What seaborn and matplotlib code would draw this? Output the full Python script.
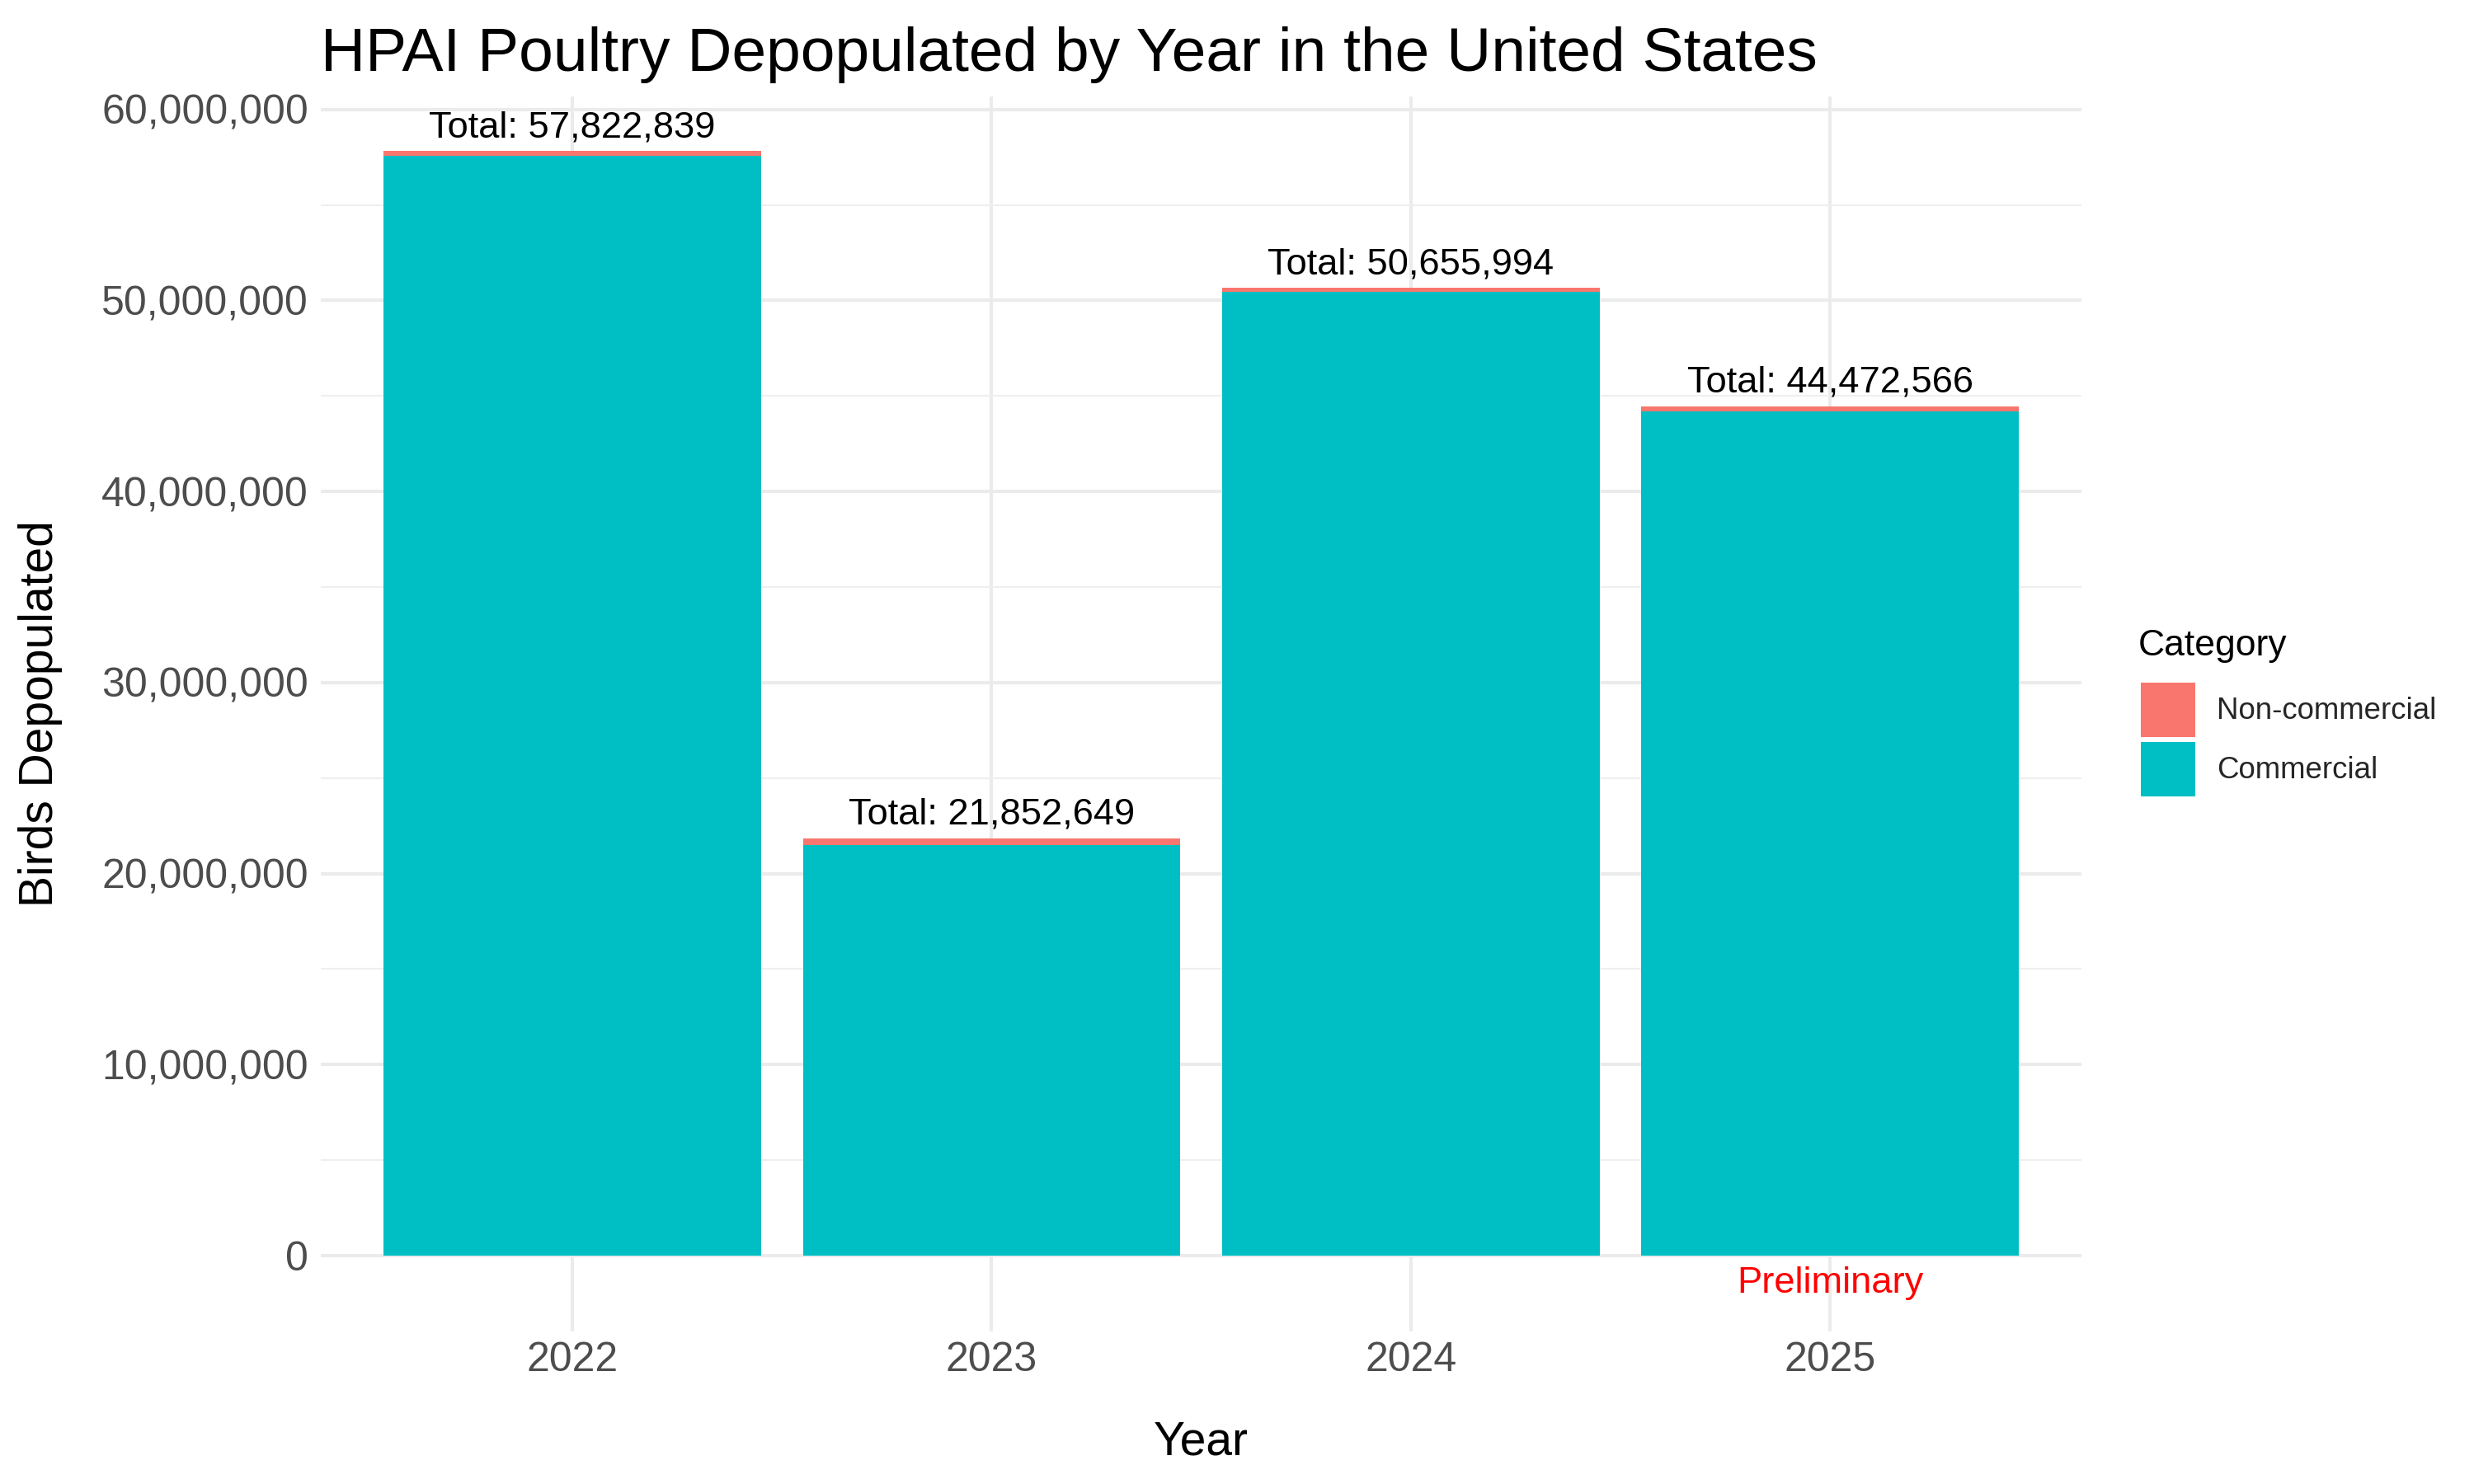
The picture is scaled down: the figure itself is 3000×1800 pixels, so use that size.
import matplotlib
matplotlib.use("Agg")
import matplotlib.pyplot as plt
from matplotlib.patches import Patch
from matplotlib.ticker import FuncFormatter, MultipleLocator
import seaborn as sns
import pandas as pd

years = ["2022", "2023", "2024", "2025"]
totals = [57822839, 21852649, 50655994, 44472566]
# non-commercial share read off the thin red caps
non_commercial = [260000, 360000, 220000, 270000]
commercial = [t - n for t, n in zip(totals, non_commercial)]

pink = "#F8766D"
teal = "#00BFC4"

df = pd.DataFrame({"Year": years, "Total": totals, "Commercial": commercial})

sns.set_theme(style="whitegrid")
plt.rcParams["font.family"] = ["Liberation Sans", "DejaVu Sans"]

fig = plt.figure(figsize=(15, 9), dpi=200)
ax = fig.add_axes([0.1297, 0.1028, 0.7117, 0.8322])

# stacked bars: full total in red, commercial drawn over it
sns.barplot(data=df, x="Year", y="Total", color=pink, width=0.9, saturation=1, ax=ax)
sns.barplot(data=df, x="Year", y="Commercial", color=teal, width=0.9, saturation=1, ax=ax)
for p in ax.patches:
    p.set_edgecolor("none")

for i, t in enumerate(totals):
    ax.text(i, t + 730000, f"Total: {t:,}", ha="center", va="baseline", fontsize=16.3, color="black")
ax.text(3, -1450000, "Preliminary", ha="center", va="center", fontsize=16.3, color="red")

ax.set_xlim(-0.6, 3.6)
ax.set_ylim(-3970000, 60680000)
ax.yaxis.set_major_locator(MultipleLocator(10000000))
ax.yaxis.set_minor_locator(MultipleLocator(5000000))
ax.yaxis.set_major_formatter(FuncFormatter(lambda v, _: f"{int(v):,}"))

ax.grid(True, which="major", color="#EBEBEB", linewidth=1.5)
ax.grid(True, which="minor", axis="y", color="#EFEFEF", linewidth=0.8)
ax.set_axisbelow(True)
for s in ax.spines.values():
    s.set_visible(False)
ax.tick_params(axis="both", which="both", length=0, labelsize=18, labelcolor="#4D4D4D")
ax.tick_params(axis="x", pad=4.3)
ax.tick_params(axis="y", pad=5.5)

ax.set_xlabel("Year", fontsize=20.5, color="black", va="baseline")
ax.set_ylabel("Birds Depopulated", fontsize=20.5, color="black")
ax.xaxis.set_label_coords(0.5, -0.1001)
ax.yaxis.set_label_coords(-0.1466, 0.5)

fig.text(0.1297, 0.952, "HPAI Poultry Depopulated by Year in the United States",
         fontsize=27, ha="left", va="baseline", color="black")

# legend title drawn on its own so the gap to the keys can be matched
fig.text(0.8643, 0.5583, "Category", fontsize=16, ha="left", va="baseline", color="black")
handles = [Patch(facecolor=pink, edgecolor="none", label="Non-commercial"),
           Patch(facecolor=teal, edgecolor="none", label="Commercial")]
leg = fig.legend(handles=handles, loc="upper left", bbox_to_anchor=(0.8653, 0.54),
                 frameon=False, fontsize=13.2, handlelength=1.8, handleheight=2.39,
                 labelspacing=0.16, handletextpad=0.71, borderpad=0, borderaxespad=0)

fig.savefig("out.png", dpi=200, facecolor="white")
